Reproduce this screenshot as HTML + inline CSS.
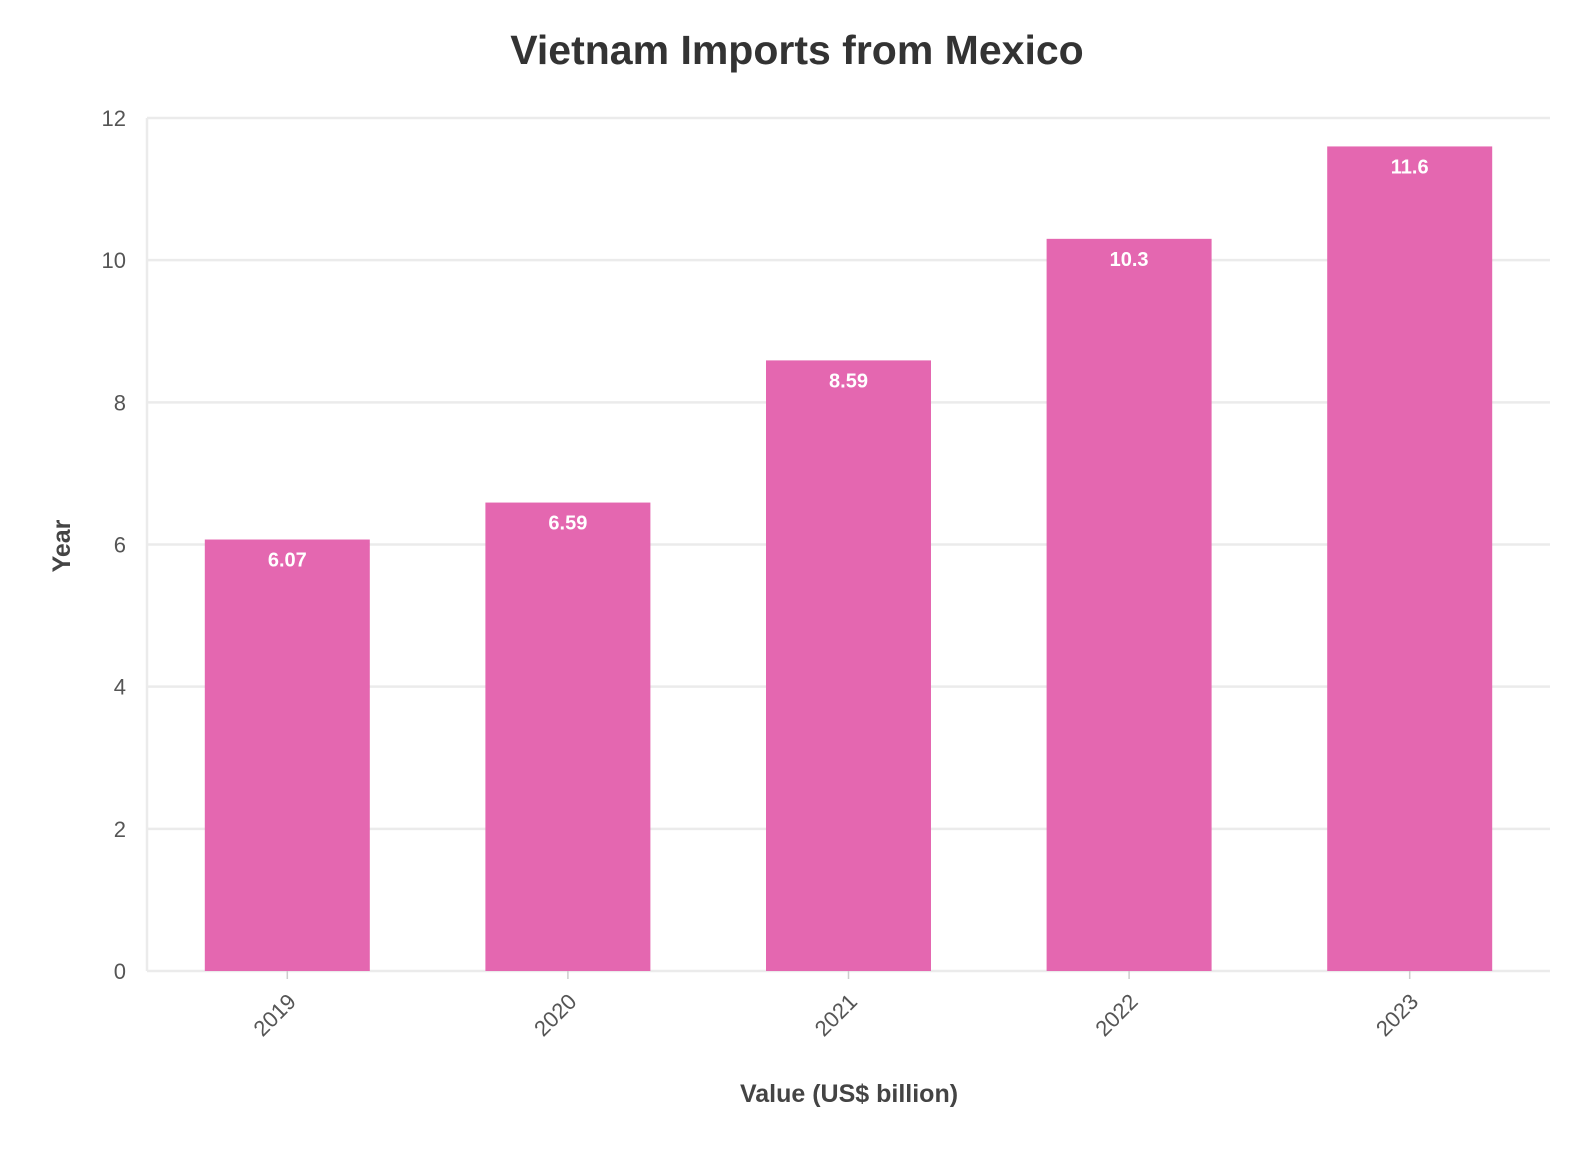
<!DOCTYPE html>
<html><head><meta charset="utf-8"><style>
body{margin:0;background:#fff;}
svg{display:block;font-family:"Liberation Sans",sans-serif;}
</style></head><body>
<svg id="chart" width="1592" height="1150">
<text x="797" y="64" text-anchor="middle" font-size="41" font-weight="bold" fill="#333">Vietnam Imports from Mexico</text>
<g id="grid"></g>
<g id="bars"></g>
<g id="axes"></g>
<text x="849" y="1102" text-anchor="middle" font-size="25" font-weight="bold" fill="#444">Value (US$ billion)</text>
<text transform="translate(70,546) rotate(-90)" text-anchor="middle" font-size="25" font-weight="bold" fill="#444">Year</text>
</svg>
<script>
const categories = ["2019","2020","2021","2022","2023"];
const values = [6.07, 6.59, 8.59, 10.3, 11.6];
const yTicks = [0,2,4,6,8,10,12];
const NS="http://www.w3.org/2000/svg";
const x0=147,x1=1550,yBase=971,yTop=118,yMax=12;
const band=(x1-x0)/categories.length, bw=165;
function y(v){return yBase-(v/yMax)*(yBase-yTop);}
function xc(i){return x0+band*(i+0.5);}
function mk(tag,attrs,parent){const e=document.createElementNS(NS,tag);for(const k in attrs)e.setAttribute(k,attrs[k]);parent.appendChild(e);return e;}
const grid=document.getElementById('grid'),bars=document.getElementById('bars'),axes=document.getElementById('axes');
yTicks.forEach(t=>{
  const l=mk('line',{x1:x0,x2:x1,y1:y(t),y2:y(t),stroke:'#ebebeb','stroke-width':2.5},grid);
  
  
  const tx=mk('text',{x:x0-21,y:y(t)+8,'text-anchor':'end','font-size':22,fill:'#555'},axes);
  tx.textContent=t;
  
  
});
const ax=mk('line',{x1:x0,x2:x0,y1:yTop,y2:yBase,stroke:'#ebebeb','stroke-width':2.5},axes);


categories.forEach((c,i)=>{
  const r=mk('rect',{x:xc(i)-bw/2,y:y(values[i]),width:bw,height:yBase-y(values[i]),fill:'#e467b0'},bars);
  
  
  const lb=mk('text',{x:xc(i),y:y(values[i])+27,'text-anchor':'middle','font-size':20,'font-weight':'bold',fill:'#fff'},bars);
  lb.textContent=values[i];
  
  
  const tk=mk('line',{x1:xc(i),x2:xc(i),y1:yBase,y2:yBase+8,stroke:'#ccc','stroke-width':1.5},axes);
  
  
  const xl=mk('text',{transform:`translate(${xc(i)+10},${yBase+32}) rotate(-45)`,'text-anchor':'end','font-size':22,fill:'#555'},axes);
  xl.textContent=c;
  
  
});
</script>
</body></html>
